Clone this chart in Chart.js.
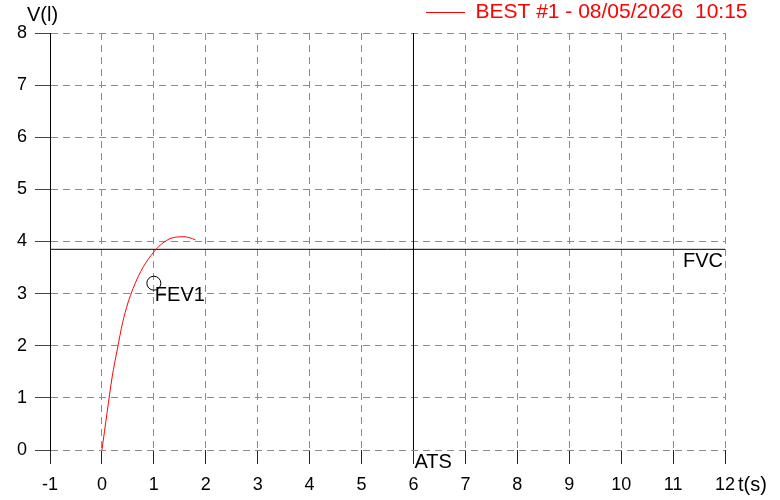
<!DOCTYPE html>
<html>
<head>
<meta charset="utf-8">
<script src="https://cdn.jsdelivr.net/npm/chart.js@4.4.1/dist/chart.umd.min.js"></script>
<style>
  html, body { margin: 0; padding: 0; background: #fff; }
  #wrap { width: 780px; height: 500px; }
</style>
</head>
<body>
<div id="wrap"><canvas id="spiro"></canvas></div>
<script>
// flow-volume test, best curve (time in s, volume in l)
const timeS   = [0, 0.1, 0.2, 0.3, 0.4, 0.5, 0.6, 0.7, 0.8, 0.9, 1.0, 1.1, 1.2, 1.3, 1.4, 1.5, 1.6, 1.7, 1.8];
const volumeL = [0, 0.72, 1.42, 1.95, 2.45, 2.82, 3.1, 3.33, 3.52, 3.67, 3.8, 3.91, 3.99, 4.05, 4.08, 4.09, 4.09, 4.07, 4.03];

const fvcVolume = 3.85;
const atsTime = 6;
const fev1Time = 1.0;
const fev1Volume = 3.2;

const xRange = [-1, 12];
const yRange = [0, 8];

const curveLabel = 'BEST #1 - 08/05/2026  10:15';

const font = '"Liberation Sans", Arial, Helvetica, sans-serif';

const textLabels = {
	id: 'textLabels',
	afterDatasetsDraw(chart) {
		const {ctx, chartArea} = chart;
		const x = chart.scales.x, y = chart.scales.y;
		ctx.save();
		ctx.font = '20px ' + font;
		ctx.fillStyle = '#000';
		ctx.textBaseline = 'middle';
		ctx.textAlign = 'left';
		ctx.fillText('FEV1', x.getPixelForValue(fev1Time) + 1, y.getPixelForValue(fev1Volume) + 12);
		ctx.fillText('ATS', x.getPixelForValue(atsTime) + 1, chartArea.bottom + 12);
		ctx.textAlign = 'right';
		ctx.fillText('FVC', chartArea.right - 2, y.getPixelForValue(fvcVolume) + 12.5);
		// axis titles
		ctx.textAlign = 'left';
		ctx.fillText('V(l)', 27, 15);
		ctx.fillText('t(s)', chartArea.right + 13, 485);
		ctx.restore();
	}
};

new Chart(document.getElementById('spiro'), {
	type: 'line',
	data: {
		datasets: [{
			label: curveLabel,
			data: timeS.map((t, i) => ({x: t, y: volumeL[i]})),
			borderColor: '#ff0000',
			backgroundColor: '#ff0000',
			borderWidth: 1,
			pointRadius: 0,
			tension: 0.3
		}, {
			label: 'FVC',
			data: [{x: xRange[0], y: fvcVolume}, {x: xRange[1], y: fvcVolume}],
			borderColor: '#000',
			borderWidth: 1,
			pointRadius: 0
		}, {
			label: 'ATS',
			data: [{x: atsTime, y: yRange[0]}, {x: atsTime, y: yRange[1]}],
			borderColor: '#000',
			borderWidth: 1,
			pointRadius: 0
		}, {
			label: 'FEV1',
			data: [{x: fev1Time, y: fev1Volume}],
			showLine: false,
			borderColor: '#000',
			backgroundColor: 'rgba(0,0,0,0)',
			borderWidth: 1,
			pointRadius: 7
		}]
	},
	options: {
		responsive: true,
		maintainAspectRatio: false,
		animation: false,
		events: [],
		layout: {
			padding: {left: 0, right: 30.5, top: 0, bottom: 0}
		},
		scales: {
			x: {
				type: 'linear',
				min: xRange[0],
				max: xRange[1],
				afterFit: (scale) => { scale.height = 50; scale.paddingRight = 55; },
				ticks: {
					stepSize: 1,
					padding: 10,
					color: '#000',
					font: {family: font, size: 18}
				},
				grid: {
					color: '#8c8c8c',
					tickLength: 14,
					tickColor: '#222',
					tickBorderDash: []
				},
				border: {display: false, dash: [7, 5]}
			},
			y: {
				min: yRange[0],
				max: yRange[1],
				afterFit: (scale) => { scale.width = 50; },
				ticks: {
					stepSize: 1,
					padding: 8,
					color: '#000',
					font: {family: font, size: 18}
				},
				grid: {
					color: '#8c8c8c',
					tickLength: 15,
					tickColor: '#444',
					tickBorderDash: []
				},
				border: {display: true, color: '#000', width: 1, dash: [7, 5]}
			}
		},
		plugins: {
			tooltip: {enabled: false},
			legend: {
				display: true,
				position: 'top',
				align: 'end',
				labels: {
					usePointStyle: true,
					pointStyle: 'line',
					pointStyleWidth: 39,
					padding: 2,
					color: '#ff0000',
					font: {family: font, size: 21},
					filter: (item) => item.datasetIndex === 0
				}
			}
		}
	},
	plugins: [textLabels]
});
</script>
</body>
</html>
